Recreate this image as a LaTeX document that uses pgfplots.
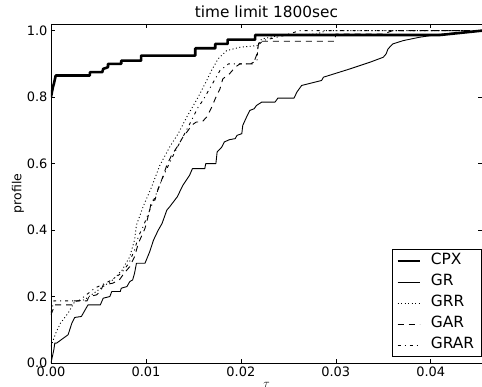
\documentclass[border=0pt]{standalone}
\usepackage{fontspec}
\setmainfont{DejaVu Sans}
\usepackage{pgfplots}
\pgfplotsset{compat=1.18}
\begin{document}
\begin{tikzpicture}
\useasboundingbox (-51bp,-24bp) rectangle (431bp,363bp);
\begin{axis}[
  scale only axis, width=431bp, height=339bp,
  xmin=0, xmax=0.0454, ymin=0, ymax=1.02,
  axis line style={line width=0.9bp},
  tick align=inside, major tick length=4bp,
  tick style={line width=0.6bp, black},
  xtick={0,0.01,0.02,0.03,0.04},
  ytick={0,0.2,0.4,0.6,0.8,1.0},
  scaled x ticks=false,
  xticklabel style={/pgf/number format/fixed, /pgf/number format/fixed zerofill, /pgf/number format/precision=2, /pgf/number format/assume math mode=true, yshift=0bp},
  yticklabel style={/pgf/number format/fixed, /pgf/number format/fixed zerofill, /pgf/number format/precision=1, /pgf/number format/assume math mode=true},
  ticklabel style={font=\fontsize{13}{15}\selectfont},
  title={time limit 1800sec},
  title style={font=\fontsize{15.4}{18}\selectfont, at={(axis description cs:0.5,1)}, anchor=center, yshift=6bp},
  xlabel={$\tau$},
  xlabel style={at={(axis description cs:0.5,0)}, anchor=center, yshift=-22bp, font=\fontsize{13}{15}\selectfont},
  ylabel={profile},
  ylabel style={at={([xshift=-33bp]axis description cs:0,0.5)}, anchor=center, font=\fontsize{12.5}{14}\selectfont},
  legend style={at={(axis description cs:0.999,0.018)}, anchor=south east, draw=black, line width=0.8bp,
    font=\fontsize{15.5}{17}\selectfont, inner xsep=4bp, inner ysep=3.5bp, row sep=5bp,
    nodes={inner xsep=3bp, inner ysep=1bp, text height=11bp, text depth=3bp}},
  legend cell align=left,
  legend image code/.code={\draw[#1] (0bp,0bp) -- (22bp,0bp); \path (29bp,0bp);},
  every axis plot/.append style={black, line join=round},
]
% CPX
\addplot[line width=2.6bp] coordinates {
(0,0.80) (0.0002,0.83) (0.0003,0.84) (0.0005,0.865) (0.0041,0.865) (0.0041,0.875) (0.0054,0.875) (0.0055,0.885) (0.0060,0.89) (0.0060,0.90) (0.0074,0.90) (0.0074,0.91) (0.0095,0.91) (0.0095,0.925) (0.0152,0.925) (0.0152,0.947) (0.0173,0.947) (0.0173,0.96) (0.0186,0.96) (0.0186,0.973) (0.0215,0.973) (0.0215,0.987) (0.041,0.987) (0.0454,1.0)
};
\addlegendentry{CPX}
% GR
\addplot[line width=0.9bp] coordinates {
(0,0) (0.0003,0.04) (0.0004,0.06) (0.0006,0.06) (0.0018,0.085) (0.0022,0.12) (0.0025,0.137) (0.0032,0.14) (0.0036,0.16) (0.0039,0.175) (0.0052,0.175) (0.0055,0.195) (0.0062,0.2) (0.0064,0.215) (0.0073,0.215) (0.0074,0.225) (0.0080,0.23) (0.0083,0.245) (0.0086,0.25) (0.0088,0.27) (0.0090,0.30) (0.0099,0.30) (0.0104,0.335) (0.0108,0.37) (0.0113,0.40) (0.0117,0.42) (0.0122,0.46) (0.0125,0.47) (0.0133,0.50) (0.0139,0.535) (0.0146,0.565) (0.0149,0.585) (0.0162,0.585) (0.0163,0.60) (0.01737,0.60) (0.0175,0.635) (0.0180,0.65) (0.01825,0.665) (0.0188,0.672) (0.0194,0.675) (0.0196,0.685) (0.0201,0.69) (0.0202,0.715) (0.0206,0.74) (0.02095,0.76) (0.0214,0.765) (0.02165,0.775) (0.0222,0.785) (0.0236,0.785) (0.0239,0.797) (0.0256,0.797) (0.0259,0.815) (0.0264,0.835) (0.0285,0.85) (0.0287,0.86) (0.0315,0.885) (0.0336,0.905) (0.0350,0.92) (0.0353,0.93) (0.0355,0.945) (0.0360,0.96) (0.0371,0.97) (0.0388,0.98) (0.0406,0.988) (0.0430,0.994) (0.0454,1.0)
};
\addlegendentry{GR}
% GRR
\addplot[line width=0.9bp, dash pattern=on 1bp off 2.5bp] coordinates {
(0,0.05) (0.0005,0.09) (0.0010,0.12) (0.0018,0.15) (0.0025,0.185) (0.0035,0.19) (0.0045,0.21) (0.0055,0.23) (0.0065,0.25) (0.0075,0.28) (0.0083,0.32) (0.0088,0.37) (0.0090,0.415) (0.0097,0.47) (0.0106,0.53) (0.01147,0.595) (0.0125,0.65) (0.0134,0.69) (0.0143,0.74) (0.0155,0.80) (0.0164,0.85) (0.0169,0.88) (0.0176,0.915) (0.0185,0.94) (0.0199,0.95) (0.0217,0.955) (0.0222,0.975) (0.0240,0.985) (0.0280,0.99) (0.0290,1.0) (0.0454,1.0)
};
\addlegendentry{GRR}
% GAR
\addplot[line width=0.9bp, dash pattern=on 6bp off 5bp] coordinates {
(0,0.145) (0.0004,0.175) (0.0022,0.175) (0.0023,0.187) (0.0038,0.187) (0.0040,0.20) (0.0048,0.205) (0.0052,0.215) (0.0055,0.235) (0.0065,0.24) (0.0072,0.25) (0.0077,0.27) (0.0083,0.29) (0.0088,0.32) (0.0092,0.36) (0.0099,0.405) (0.0104,0.46) (0.0106,0.49) (0.01095,0.49) (0.0113,0.525) (0.01165,0.55) (0.0122,0.595) (0.0127,0.625) (0.0134,0.655) (0.0139,0.68) (0.01445,0.70) (0.0148,0.715) (0.0153,0.725) (0.0159,0.725) (0.0164,0.74) (0.0169,0.768) (0.0173,0.795) (0.0178,0.825) (0.0181,0.855) (0.0188,0.87) (0.0194,0.89) (0.0199,0.90) (0.0213,0.90) (0.0217,0.93) (0.0219,0.968) (0.0299,0.968) (0.0300,0.99) (0.0350,0.99) (0.0360,1.0) (0.0454,1.0)
};
\addlegendentry{GAR}
% GRAR
\addplot[line width=0.9bp, dash pattern=on 3bp off 4bp on 1bp off 4bp] coordinates {
(0,0.15) (0.0003,0.187) (0.0029,0.187) (0.0035,0.20) (0.0046,0.225) (0.0057,0.24) (0.0064,0.25) (0.0074,0.27) (0.0082,0.30) (0.0088,0.34) (0.0092,0.38) (0.0097,0.41) (0.0104,0.46) (0.0111,0.51) (0.0118,0.56) (0.0127,0.615) (0.0136,0.665) (0.01445,0.71) (0.0155,0.77) (0.0160,0.79) (0.0169,0.835) (0.0178,0.88) (0.0187,0.90) (0.0210,0.90) (0.0217,0.91) (0.0218,0.955) (0.0223,0.97) (0.0245,0.985) (0.0262,1.0) (0.0454,1.0)
};
\addlegendentry{GRAR}
\end{axis}
\end{tikzpicture}
\end{document}
